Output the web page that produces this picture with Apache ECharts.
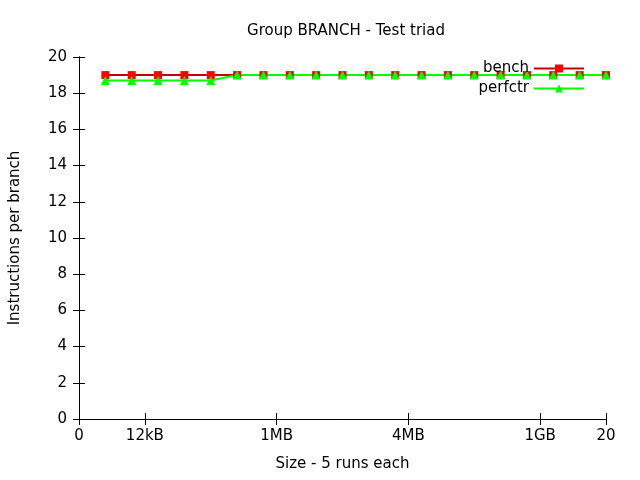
<!DOCTYPE html>
<html><head><meta charset="utf-8">
<script src="https://cdn.jsdelivr.net/npm/echarts@6/dist/echarts.min.js"></script>
<style>html,body{margin:0;padding:0;background:#fff}#c{width:640px;height:480px}</style>
</head><body><div id="c"></div>
<script>
const xValues = [1,2,3,4,5,6,7,8,9,10,11,12,13,14,15,16,17,18,19,20];
const benchValues = [19,19,19,19,19,19,19,19,19,19,19,19,19,19,19,19,19,19,19,19];
const perfctrValues = [18.7,18.7,18.7,18.7,18.7,19,19,19,19,19,19,19,19,19,19,19,19,19,19,19];
const xTickPositions = [0,2.5,7.5,12.5,17.5,20];
const xTickLabels = ['0','12kB','1MB','4MB','1GB','20'];

const FONT = 'DejaVu Sans';
const FS = 15;
const chart = echarts.init(document.getElementById('c'), null, {renderer:'canvas'});
const lbl = {};
xTickPositions.forEach((v,i)=>{lbl[v]=xTickLabels[i];});
const axLine = {show:true, lineStyle:{color:'#000', width:1}};
chart.setOption({
  animation:false,
  backgroundColor:'#fff',
  title:{text:'Group BRANCH - Test triad', left:341, top:19,
    textAlign:'center',
    textStyle:{fontFamily:FONT, fontSize:FS, fontWeight:'normal', color:'#000'}},
  legend:{
    right:55, top:61, orient:'vertical', align:'right', padding:0,
    itemWidth:50, itemHeight:10, itemGap:5,
    textStyle:{fontFamily:FONT, fontSize:FS, color:'#000'},
    data:['bench','perfctr']
  },
  grid:{left:79, right:34, top:57, bottom:61},
  xAxis:[{
    type:'value', min:0, max:20, position:'bottom',
    name:'Size - 5 runs each', nameLocation:'middle', nameGap:38,
    nameTextStyle:{fontFamily:FONT, fontSize:FS, color:'#000'},
    axisLine:axLine, splitLine:{show:false},
    axisTick:{show:true, inside:true, length:6, customValues:xTickPositions, lineStyle:{color:'#000'}},
    axisLabel:{fontFamily:FONT, fontSize:FS, color:'#000', margin:10,
      customValues:xTickPositions, formatter:v=>lbl[v]}
  },{
    type:'value', min:0, max:20, position:'top',
    axisLine:axLine, splitLine:{show:false},
    axisTick:{show:true, inside:true, length:6, customValues:xTickPositions, lineStyle:{color:'#000'}},
    axisLabel:{show:false}
  }],
  yAxis:[{
    type:'value', min:0, max:20, interval:2, position:'left',
    name:'Instructions per branch', nameLocation:'middle', nameGap:56,
    nameTextStyle:{fontFamily:FONT, fontSize:FS, color:'#000'},
    axisLine:axLine, splitLine:{show:false},
    axisTick:{show:true, inside:true, length:6, lineStyle:{color:'#000'}},
    axisLabel:{fontFamily:FONT, fontSize:FS, color:'#000', margin:12}
  },{
    type:'value', min:0, max:20, interval:2, position:'right',
    axisLine:axLine, splitLine:{show:false},
    axisTick:{show:true, inside:true, length:6, lineStyle:{color:'#000'}},
    axisLabel:{show:false}
  }],
  series:[{
    name:'bench', type:'line',
    data:xValues.map((x,i)=>[x,benchValues[i]]),
    symbol:'rect', symbolSize:8, showSymbol:true,
    lineStyle:{color:'#c00000', width:2},
    itemStyle:{color:'#ff0000'}
  },{
    name:'perfctr', type:'line',
    data:xValues.map((x,i)=>[x,perfctrValues[i]]),
    symbol:'triangle', symbolSize:9, showSymbol:true,
    lineStyle:{color:'#00ff00', width:2},
    itemStyle:{color:'#00ff00'}
  }]
});
</script></body></html>
